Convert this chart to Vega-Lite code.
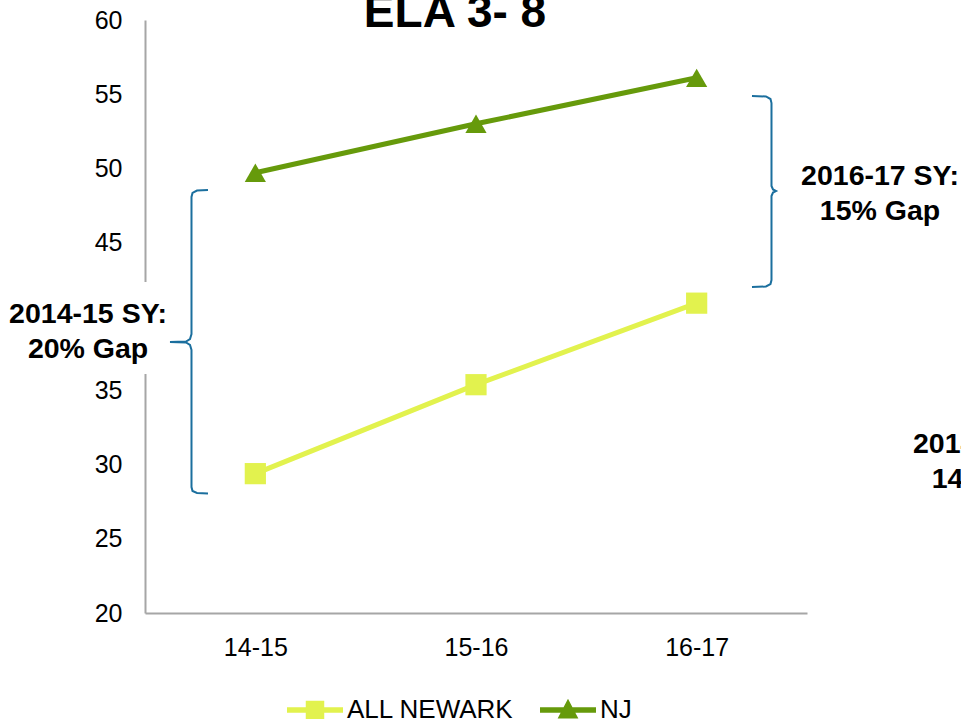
{
  "$schema": "https://vega.github.io/schema/vega-lite/v6.json",
  "width": 662,
  "height": 593,
  "autosize": {"type": "none"},
  "padding": {"left": 145, "top": 20, "right": 154, "bottom": 106},
  "background": "white",
  "config": {
    "view": {"stroke": null},
    "font": "Liberation Sans",
    "axis": {
      "domainColor": "#a6a6a6",
      "domainWidth": 2,
      "ticks": false,
      "tickSize": 0,
      "grid": false,
      "labelFontSize": 25,
      "labelColor": "#000000",
      "labelFont": "Liberation Sans",
      "title": null
    }
  },
  "datasets": {
    "series": [
      {"year": "14-15", "i": 0, "series": "ALL NEWARK", "v": 29.4},
      {"year": "15-16", "i": 1, "series": "ALL NEWARK", "v": 35.4},
      {"year": "16-17", "i": 2, "series": "ALL NEWARK", "v": 40.9},
      {"year": "14-15", "i": 0, "series": "NJ", "v": 49.7},
      {"year": "15-16", "i": 1, "series": "NJ", "v": 53.0},
      {"year": "16-17", "i": 2, "series": "NJ", "v": 56.1}
    ],
    "box": [
      {"x1": -1.2, "x2": -0.43, "y1": 42.33, "y2": 36.12}
    ],
    "braces": [
      {"b": "left", "o": 0, "x": -0.2145, "y": 48.533},
      {"b": "left", "o": 1, "x": -0.2644, "y": 48.499},
      {"b": "left", "o": 2, "x": -0.2847, "y": 48.331},
      {"b": "left", "o": 3, "x": -0.2893, "y": 48.061},
      {"b": "left", "o": 4, "x": -0.2893, "y": 38.82},
      {"b": "left", "o": 5, "x": -0.2961, "y": 38.482},
      {"b": "left", "o": 6, "x": -0.3142, "y": 38.314},
      {"b": "left", "o": 7, "x": -0.3867, "y": 38.28},
      {"b": "left", "o": 8, "x": -0.3142, "y": 38.246},
      {"b": "left", "o": 9, "x": -0.2961, "y": 38.078},
      {"b": "left", "o": 10, "x": -0.2893, "y": 37.74},
      {"b": "left", "o": 11, "x": -0.2893, "y": 28.499},
      {"b": "left", "o": 12, "x": -0.2847, "y": 28.229},
      {"b": "left", "o": 13, "x": -0.2644, "y": 28.094},
      {"b": "left", "o": 14, "x": -0.2145, "y": 28.061},
      {"b": "right", "o": 0, "x": 2.2507, "y": 54.873},
      {"b": "right", "o": 1, "x": 2.3141, "y": 54.84},
      {"b": "right", "o": 2, "x": 2.3345, "y": 54.671},
      {"b": "right", "o": 3, "x": 2.3391, "y": 54.401},
      {"b": "right", "o": 4, "x": 2.3391, "y": 48.803},
      {"b": "right", "o": 5, "x": 2.3459, "y": 48.567},
      {"b": "right", "o": 6, "x": 2.3595, "y": 48.465},
      {"b": "right", "o": 7, "x": 2.3459, "y": 48.364},
      {"b": "right", "o": 8, "x": 2.3391, "y": 48.128},
      {"b": "right", "o": 9, "x": 2.3391, "y": 42.462},
      {"b": "right", "o": 10, "x": 2.3345, "y": 42.192},
      {"b": "right", "o": 11, "x": 2.3141, "y": 42.024},
      {"b": "right", "o": 12, "x": 2.2507, "y": 41.99}
    ],
    "notes": [
      {"x": -0.758, "y": 39.56, "t": ["2014-15 SY:", "20% Gap"]},
      {"x": 2.831, "y": 48.87, "t": ["2016-17 SY:", "15% Gap"]},
      {"x": 3.338, "y": 30.79, "t": ["2014-15 SY:", "14% Gap"]}
    ],
    "title": [
      {"x": 0.905, "y": 59.53, "t": "ELA 3- 8"}
    ]
  },
  "layer": [
    {
      "data": {"name": "box"},
      "mark": {"type": "rect", "fill": "white", "stroke": null},
      "encoding": {
        "x": {"field": "x1", "type": "quantitative", "scale": {"domain": [-0.5, 2.5]}},
        "x2": {"field": "x2"},
        "y": {"field": "y1", "type": "quantitative", "scale": {"domain": [20, 60]}},
        "y2": {"field": "y2"}
      }
    },
    {
      "data": {"name": "braces"},
      "mark": {"type": "line", "stroke": "#1b6f9e", "strokeWidth": 2, "interpolate": "linear"},
      "encoding": {
        "x": {"field": "x", "type": "quantitative"},
        "y": {"field": "y", "type": "quantitative"},
        "detail": {"field": "b", "type": "nominal"},
        "order": {"field": "o", "type": "quantitative"}
      }
    },
    {
      "data": {"name": "notes"},
      "mark": {"type": "text", "align": "center", "baseline": "alphabetic", "fontSize": 28.5, "fontWeight": "bold", "lineHeight": 35, "color": "#000000", "font": "Liberation Sans"},
      "encoding": {
        "x": {"field": "x", "type": "quantitative"},
        "y": {"field": "y", "type": "quantitative"},
        "text": {"field": "t", "type": "nominal"}
      }
    },
    {
      "data": {"name": "title"},
      "mark": {"type": "text", "align": "center", "baseline": "alphabetic", "fontSize": 46, "fontWeight": "bold", "color": "#000000", "font": "Liberation Sans"},
      "encoding": {
        "x": {"field": "x", "type": "quantitative"},
        "y": {"field": "y", "type": "quantitative"},
        "text": {"field": "t", "type": "nominal"}
      }
    },
    {
      "data": {"name": "series"},
      "mark": {"type": "line", "strokeWidth": 5},
      "encoding": {
        "x": {
          "field": "i",
          "type": "quantitative",
          "scale": {"domain": [-0.5, 2.5], "nice": false, "zero": false},
          "axis": {"values": [0, 1, 2], "labelExpr": "['14-15','15-16','16-17'][datum.value]", "labelPadding": 22}
        },
        "y": {
          "field": "v",
          "type": "quantitative",
          "scale": {"domain": [20, 60], "nice": false, "zero": false},
          "axis": {"values": [20, 25, 30, 35, 40, 45, 50, 55, 60], "labelPadding": 23}
        },
        "color": {
          "field": "series",
          "type": "nominal",
          "scale": {"domain": ["ALL NEWARK", "NJ"], "range": ["#e2f24e", "#669a0b"]},
          "legend": {
            "orient": "none",
            "legendX": 142,
            "legendY": 662,
            "direction": "horizontal",
            "title": null,
            "labelFontSize": 26,
            "labelColor": "#000000",
            "labelFont": "Liberation Sans",
            "labelLimit": 400,
            "symbolSize": 3136,
            "labelOffset": 4,
            "columnPadding": 26,
            "symbolStrokeWidth": 0,
            "encode": {
              "symbols": {
                "update": {
                  "shape": {"signal": "datum.value === 'NJ' ? 'M-1,-0.1L1,-0.1L1,0.1L-1,0.1Z M0,-0.4L0.37,0.3L-0.37,0.3Z' : 'M-1,-0.1L1,-0.1L1,0.1L-1,0.1Z M-0.33,-0.33L0.33,-0.33L0.33,0.33L-0.33,0.33Z'"},
                  "fill": {"scale": "color", "field": "value"},
                  "strokeWidth": {"value": 0},
                  "opacity": {"value": 1}
                }
              }
            }
          }
        }
      }
    },
    {
      "data": {"name": "series"},
      "transform": [{"filter": "datum.series === 'ALL NEWARK'"}],
      "mark": {"type": "point", "filled": true, "opacity": 1, "shape": "square", "size": 450},
      "encoding": {
        "x": {"field": "i", "type": "quantitative"},
        "y": {"field": "v", "type": "quantitative"},
        "color": {"field": "series", "type": "nominal"}
      }
    },
    {
      "data": {"name": "series"},
      "transform": [{"filter": "datum.series === 'NJ'"}],
      "mark": {"type": "point", "filled": true, "opacity": 1, "shape": "triangle-up", "size": 450},
      "encoding": {
        "x": {"field": "i", "type": "quantitative"},
        "y": {"field": "v", "type": "quantitative"},
        "color": {"field": "series", "type": "nominal"}
      }
    }
  ]
}
